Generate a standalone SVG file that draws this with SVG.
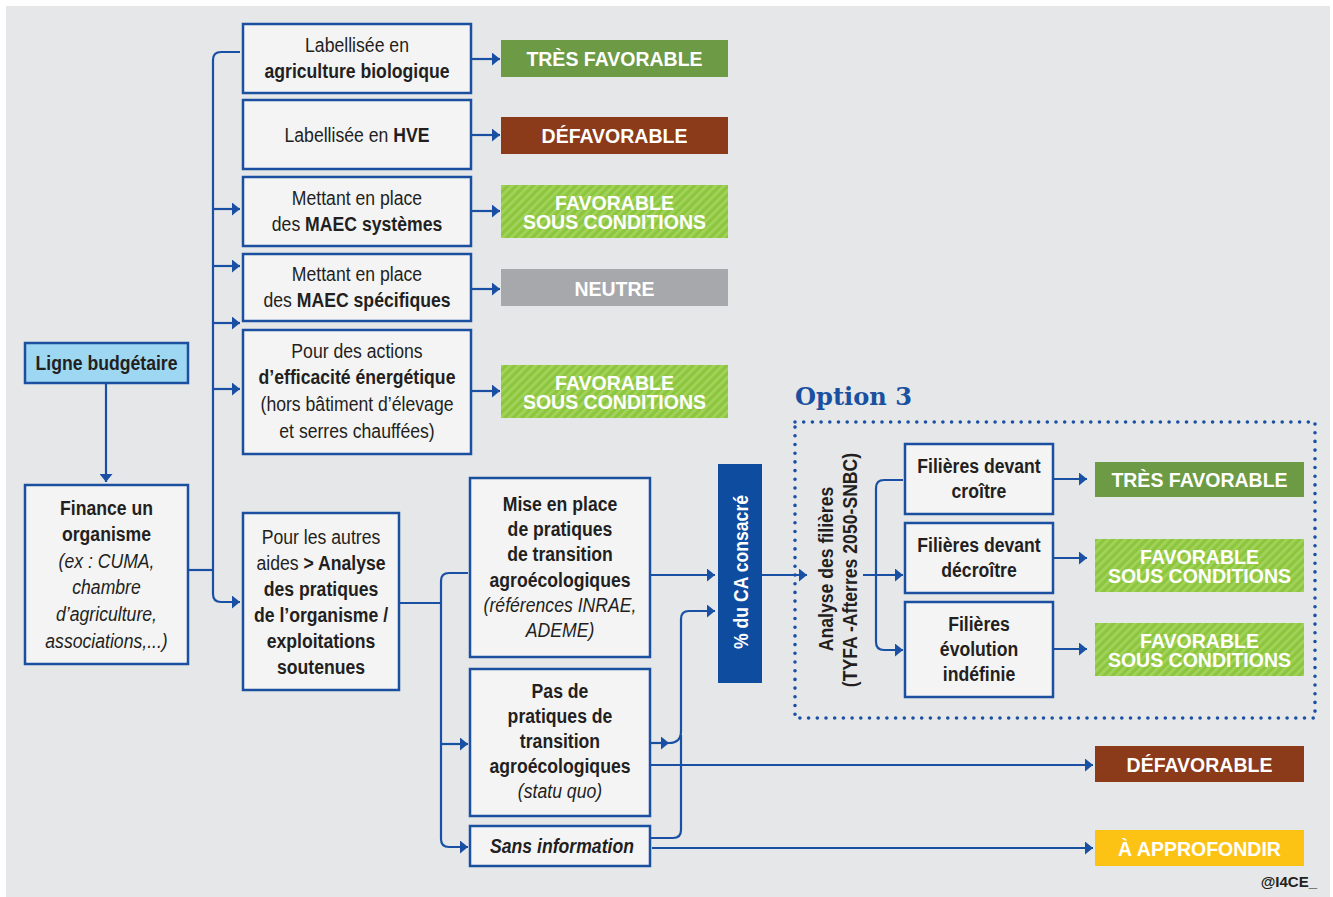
<svg xmlns="http://www.w3.org/2000/svg" width="1333" height="897" viewBox="0 0 1333 897">
<style>
.box{fill:#f4f4f5;stroke:#1b4f9f;stroke-width:2.5}
.ln{fill:none;stroke:#1a50a3;stroke-width:2.2}
.tx{font-family:"Liberation Sans",Arial,sans-serif;font-size:21px;fill:#231f20;text-anchor:middle}
.b{font-weight:bold}
.i{font-style:italic}
.res{font-family:"Liberation Sans",Arial,sans-serif;font-size:19.5px;font-weight:bold;fill:#ffffff;text-anchor:middle}
</style>
<defs>
<marker id="ah" markerUnits="userSpaceOnUse" markerWidth="10" markerHeight="13" refX="8" refY="6.5" orient="auto">
<path d="M0,0 L8,6.5 L0,13 z" fill="#1a50a3"/>
</marker>
<pattern id="hatch" width="6" height="6" patternUnits="userSpaceOnUse" patternTransform="rotate(45)">
<rect width="6" height="6" fill="#8cc63e"/>
<rect width="2.6" height="6" fill="#a4d35b"/>
</pattern>
</defs>
<rect x="0" y="0" width="1333" height="897" fill="#ffffff"/>
<rect x="6" y="6" width="1324" height="891" fill="#e6e7e9"/>

<g id="connectors">
<path class="ln" d="M106,384 V482" marker-end="url(#ah)"/>
<path class="ln" d="M188,570 H213"/>
<path class="ln" d="M240,52 H221 Q213,52 213,60 V594 Q213,602 221,602 H240" marker-end="url(#ah)"/>
<path class="ln" d="M213,209 H240" marker-end="url(#ah)"/>
<path class="ln" d="M213,266 H240" marker-end="url(#ah)"/>
<path class="ln" d="M213,323 H240" marker-end="url(#ah)"/>
<path class="ln" d="M213,389 H240" marker-end="url(#ah)"/>
<path class="ln" d="M471,59 H500" marker-end="url(#ah)"/>
<path class="ln" d="M471,135 H500" marker-end="url(#ah)"/>
<path class="ln" d="M471,211 H500" marker-end="url(#ah)"/>
<path class="ln" d="M471,289 H500" marker-end="url(#ah)"/>
<path class="ln" d="M471,391 H500" marker-end="url(#ah)"/>
<path class="ln" d="M399,603 H441"/>
<path class="ln" d="M468,573 H449 Q441,573 441,581 V839 Q441,847 449,847 H468" marker-end="url(#ah)"/>
<path class="ln" d="M441,744 H468" marker-end="url(#ah)"/>
<path class="ln" d="M650,575 H715" marker-end="url(#ah)"/>
<path class="ln" d="M650,743 H669" marker-end="url(#ah)"/>
<path class="ln" d="M669,743 Q681,743 681,731 V619 Q681,611 689,611 H715" marker-end="url(#ah)"/>
<path class="ln" d="M650,838 H673 Q681,838 681,830 V735"/>
<path class="ln" d="M650,765 H1093" marker-end="url(#ah)"/>
<path class="ln" d="M652,848 H1093" marker-end="url(#ah)"/>
<path class="ln" d="M762,575 H807" marker-end="url(#ah)"/>
<path class="ln" d="M863,575 H903" marker-end="url(#ah)"/>
<path class="ln" d="M903,480 H884 Q876,480 876,488 V642 Q876,650 884,650 H903" marker-end="url(#ah)"/>
<path class="ln" d="M1053,479 H1087" marker-end="url(#ah)"/>
<path class="ln" d="M1053,558 H1087" marker-end="url(#ah)"/>
<path class="ln" d="M1053,649 H1087" marker-end="url(#ah)"/>
</g>

<g id="option3">
<rect x="795" y="422" width="520" height="296" fill="none" stroke="#1a50a3" stroke-width="3.6" stroke-linecap="round" stroke-dasharray="0 8.7"/>
<text x="795" y="405" font-family="'DejaVu Serif',serif" font-weight="bold" font-size="25" fill="#1a50a0" textLength="117" lengthAdjust="spacingAndGlyphs">Option 3</text>
</g>

<g id="ligne">
<rect x="25" y="343" width="163" height="40" fill="#9dd7f2" stroke="#1b4f9f" stroke-width="2.5"/>
<g transform="translate(106.5,0) scale(0.84,1)"><text class="tx b" x="0" y="370">Ligne budgétaire</text></g>
</g>

<g id="finance">
<rect class="box" x="25" y="485" width="163" height="179"/>
<g transform="translate(106.5,0) scale(0.84,1)">
<text class="tx b" x="0" y="515">Finance un</text>
<text class="tx b" x="0" y="541">organisme</text>
<text class="tx i" x="0" y="568">(ex : CUMA,</text>
<text class="tx i" x="0" y="594">chambre</text>
<text class="tx i" x="0" y="621">d’agriculture,</text>
<text class="tx i" x="0" y="648">associations,...)</text>
</g>
</g>

<g id="bio">
<rect class="box" x="243" y="24" width="228" height="69"/>
<g transform="translate(357,0) scale(0.84,1)">
<text class="tx" x="0" y="52">Labellisée en</text>
<text class="tx b" x="0" y="78">agriculture biologique</text>
</g>
</g>
<g id="hve">
<rect class="box" x="243" y="100" width="228" height="69"/>
<g transform="translate(357,0) scale(0.84,1)">
<text class="tx" x="0" y="142">Labellisée en <tspan class="b">HVE</tspan></text>
</g>
</g>
<g id="maec-sys">
<rect class="box" x="243" y="177" width="228" height="69"/>
<g transform="translate(357,0) scale(0.84,1)">
<text class="tx" x="0" y="205">Mettant en place</text>
<text class="tx" x="0" y="231">des <tspan class="b">MAEC systèmes</tspan></text>
</g>
</g>
<g id="maec-spe">
<rect class="box" x="243" y="254" width="228" height="67"/>
<g transform="translate(357,0) scale(0.84,1)">
<text class="tx" x="0" y="281">Mettant en place</text>
<text class="tx" x="0" y="307">des <tspan class="b">MAEC spécifiques</tspan></text>
</g>
</g>
<g id="efficacite">
<rect class="box" x="243" y="330" width="228" height="124"/>
<g transform="translate(357,0) scale(0.84,1)">
<text class="tx" x="0" y="358">Pour des actions</text>
<text class="tx b" x="0" y="384">d’efficacité énergétique</text>
<text class="tx" x="0" y="411">(hors bâtiment d’élevage</text>
<text class="tx" x="0" y="438">et serres chauffées)</text>
</g>
</g>
<g id="autres">
<rect class="box" x="243" y="513" width="156" height="177"/>
<g transform="translate(321,0) scale(0.84,1)">
<text class="tx" x="0" y="544">Pour les autres</text>
<text class="tx" x="0" y="570">aides <tspan class="b">&gt; Analyse</tspan></text>
<text class="tx b" x="0" y="596">des pratiques</text>
<text class="tx b" x="0" y="622">de l’organisme /</text>
<text class="tx b" x="0" y="648">exploitations</text>
<text class="tx b" x="0" y="674">soutenues</text>
</g>
</g>
<g id="mise">
<rect class="box" x="470" y="478" width="180" height="179"/>
<g transform="translate(560,0) scale(0.84,1)">
<text class="tx b" x="0" y="511">Mise en place</text>
<text class="tx b" x="0" y="536">de pratiques</text>
<text class="tx b" x="0" y="561">de transition</text>
<text class="tx b" x="0" y="587">agroécologiques</text>
<text class="tx i" x="0" y="612">(références INRAE,</text>
<text class="tx i" x="0" y="637">ADEME)</text>
</g>
</g>
<g id="pasde">
<rect class="box" x="470" y="669" width="180" height="147"/>
<g transform="translate(560,0) scale(0.84,1)">
<text class="tx b" x="0" y="698">Pas de</text>
<text class="tx b" x="0" y="723">pratiques de</text>
<text class="tx b" x="0" y="748">transition</text>
<text class="tx b" x="0" y="773">agroécologiques</text>
<text class="tx i" x="0" y="798">(statu quo)</text>
</g>
</g>
<g id="sansinfo">
<rect class="box" x="470" y="826" width="180" height="40"/>
<g transform="translate(562,0) scale(0.84,1)">
<text class="tx b i" x="0" y="853">Sans information</text>
</g>
</g>
<g id="ca">
<rect x="718" y="464" width="44" height="219" fill="#0e4c9f"/>
<g transform="translate(748,572) rotate(-90) scale(0.84,1)">
<text class="tx b" x="0" y="0" style="fill:#ffffff">% du CA consacré</text>
</g>
</g>
<g id="analyse">
<g transform="translate(833,569) rotate(-90) scale(0.84,1)">
<text class="tx b" x="0" y="0">Analyse des filières</text>
</g>
<g transform="translate(857,570) rotate(-90) scale(0.84,1)">
<text class="tx b" x="0" y="0">(TYFA -Afterres 2050-SNBC)</text>
</g>
</g>
<g id="croitre">
<rect class="box" x="905" y="444" width="148" height="70"/>
<g transform="translate(979,0) scale(0.84,1)">
<text class="tx b" x="0" y="473">Filières devant</text>
<text class="tx b" x="0" y="498">croître</text>
</g>
</g>
<g id="decroitre">
<rect class="box" x="905" y="523" width="148" height="70"/>
<g transform="translate(979,0) scale(0.84,1)">
<text class="tx b" x="0" y="552">Filières devant</text>
<text class="tx b" x="0" y="577">décroître</text>
</g>
</g>
<g id="indefinie">
<rect class="box" x="905" y="602" width="148" height="95"/>
<g transform="translate(979,0) scale(0.84,1)">
<text class="tx b" x="0" y="631">Filières</text>
<text class="tx b" x="0" y="656">évolution</text>
<text class="tx b" x="0" y="681">indéfinie</text>
</g>
</g>

<g id="r-bio"><rect x="501" y="40" width="227" height="37" fill="#6d9a44"/><text class="res" x="614.5" y="66">TRÈS FAVORABLE</text></g>
<g id="r-hve"><rect x="501" y="117" width="227" height="37" fill="#8b3a1a"/><text class="res" x="614.5" y="143">DÉFAVORABLE</text></g>
<g id="r-sys"><rect x="501" y="185" width="227" height="53" fill="url(#hatch)"/><text class="res" x="614.5" y="210">FAVORABLE<tspan x="614.5" dy="19">SOUS CONDITIONS</tspan></text></g>
<g id="r-spe"><rect x="501" y="269" width="227" height="37" fill="#a7a8ab"/><text class="res" x="614.5" y="296">NEUTRE</text></g>
<g id="r-eff"><rect x="501" y="365" width="227" height="53" fill="url(#hatch)"/><text class="res" x="614.5" y="390">FAVORABLE<tspan x="614.5" dy="19">SOUS CONDITIONS</tspan></text></g>
<g id="r-croitre"><rect x="1095" y="462" width="209" height="35" fill="#6d9a44"/><text class="res" x="1199.5" y="487">TRÈS FAVORABLE</text></g>
<g id="r-decroitre"><rect x="1095" y="539" width="209" height="53" fill="url(#hatch)"/><text class="res" x="1199.5" y="564">FAVORABLE<tspan x="1199.5" dy="19">SOUS CONDITIONS</tspan></text></g>
<g id="r-indef"><rect x="1095" y="623" width="209" height="53" fill="url(#hatch)"/><text class="res" x="1199.5" y="648">FAVORABLE<tspan x="1199.5" dy="19">SOUS CONDITIONS</tspan></text></g>
<g id="r-pasde"><rect x="1095" y="746" width="209" height="36" fill="#8b3a1a"/><text class="res" x="1199.5" y="772">DÉFAVORABLE</text></g>
<g id="r-sansinfo"><rect x="1095" y="830" width="209" height="36" fill="#fdc314"/><text class="res" x="1199.5" y="856">À APPROFONDIR</text></g>

<text x="1317" y="887" font-family="'Liberation Sans',Arial,sans-serif" font-weight="bold" font-size="15" fill="#231f20" text-anchor="end">@I4CE_</text>
</svg>
